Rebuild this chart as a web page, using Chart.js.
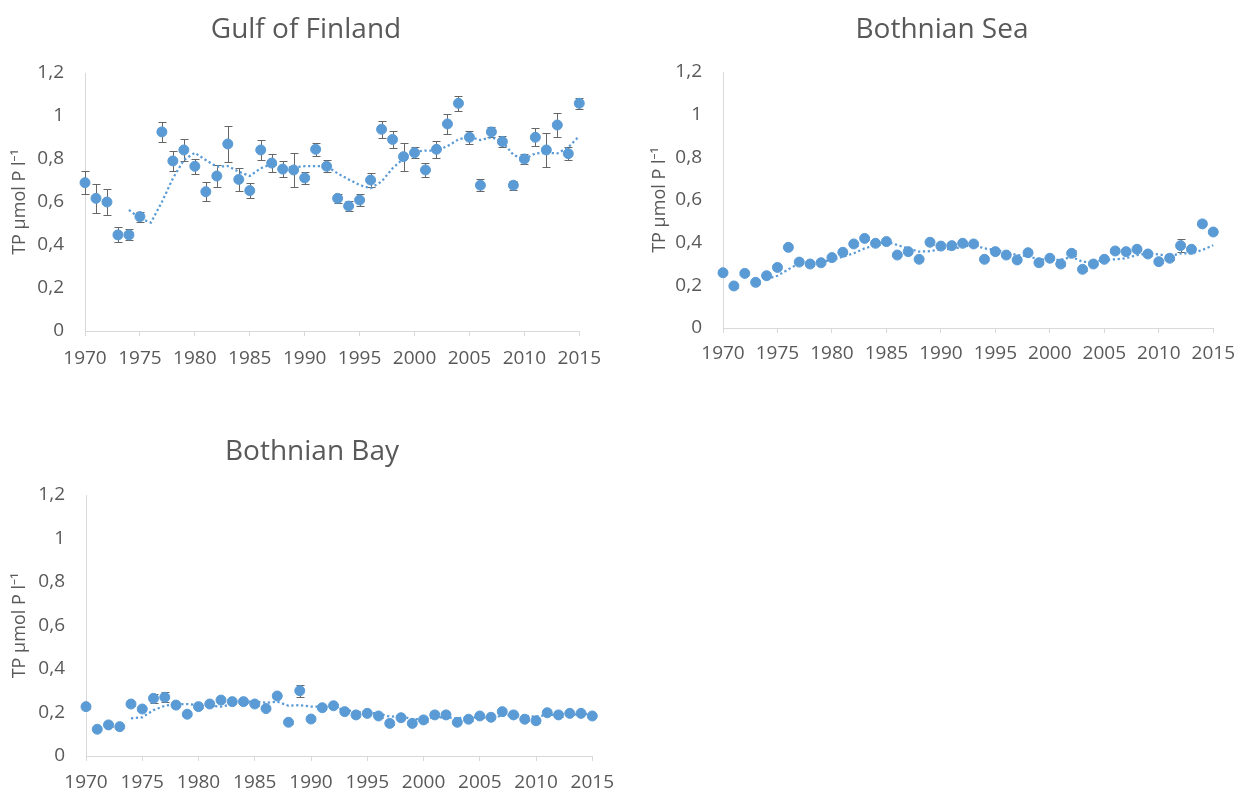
<!DOCTYPE html>
<html><head><meta charset="utf-8">
<script src="https://cdn.jsdelivr.net/npm/chart.js@4/dist/chart.umd.min.js"></script>
<style>
html,body{margin:0;padding:0;background:#fff;}
body{width:1244px;height:793px;position:relative;overflow:hidden;}
canvas{position:absolute;}
</style></head><body>
<canvas id="c1" width="612" height="365" style="left:0;top:0"></canvas>
<canvas id="c2" width="604" height="365" style="left:640px;top:0"></canvas>
<canvas id="c3" width="624" height="371" style="left:0;top:422px"></canvas>
<script>
const years = [1970,1971,1972,1973,1974,1975,1976,1977,1978,1979,1980,1981,1982,1983,1984,1985,1986,1987,1988,1989,1990,1991,1992,1993,1994,1995,1996,1997,1998,1999,2000,2001,2002,2003,2004,2005,2006,2007,2008,2009,2010,2011,2012,2013,2014,2015];
const trendYears = [1974,1975,1976,1977,1978,1979,1980,1981,1982,1983,1984,1985,1986,1987,1988,1989,1990,1991,1992,1993,1994,1995,1996,1997,1998,1999,2000,2001,2002,2003,2004,2005,2006,2007,2008,2009,2010,2011,2012,2013,2014,2015];
const xTicks = [1970,1975,1980,1985,1990,1995,2000,2005,2010,2015];
const yTicks = [0,0.2,0.4,0.6,0.8,1,1.2];

const titles = ['Gulf of Finland','Bothnian Sea','Bothnian Bay'];
const yAxisTitle = 'TP µmol P l⁻¹';

const gofValues = [0.69,0.617,0.60,0.447,0.447,0.532,null,0.926,0.791,0.842,0.766,0.648,0.721,0.870,0.705,0.653,0.842,0.781,0.753,0.749,0.712,0.845,0.766,0.617,0.581,0.609,0.702,0.938,0.891,0.811,0.829,0.749,0.845,0.963,1.059,0.901,0.678,0.926,0.881,0.678,0.80,0.901,0.842,0.958,0.825,1.059];
const gofErrors = [0.053,0.067,0.062,0.035,0.026,0.023,null,0.046,0.046,0.05,0.035,0.043,0.05,0.082,0.054,0.034,0.046,0.042,0.036,0.079,0.028,0.031,0.028,0.022,0.025,0.028,0.031,0.04,0.04,0.065,0.025,0.034,0.039,0.046,0.034,0.031,0.028,0.025,0.026,0.02,0.025,0.042,0.078,0.054,0.03,0.026];
const gofTrend = [0.563,0.524,0.504,0.60,0.71,0.795,0.829,0.795,0.764,0.767,0.741,0.721,0.757,0.777,0.764,0.76,0.767,0.767,0.767,0.733,0.705,0.679,0.664,0.695,0.757,0.803,0.834,0.839,0.839,0.860,0.891,0.904,0.888,0.901,0.881,0.819,0.799,0.826,0.829,0.826,0.854,0.907];

const bsValues = [0.259,0.197,0.256,0.214,0.245,0.284,0.378,0.309,0.30,0.306,0.33,0.355,0.394,0.42,0.397,0.405,0.342,0.358,0.322,0.402,0.384,0.386,0.397,0.394,0.322,0.358,0.342,0.319,0.353,0.306,0.327,0.30,0.35,0.275,0.30,0.322,0.361,0.358,0.369,0.347,0.311,0.327,0.386,0.369,0.488,0.45];
const bsErrors = [0.008,0.008,0.008,0.008,0.008,0.008,0.01,0.008,0.008,0.008,0.008,0.008,0.008,0.008,0.008,0.008,0.008,0.008,0.008,0.012,0.008,0.008,0.008,0.008,0.008,0.008,0.008,0.008,0.008,0.008,0.008,0.008,0.014,0.008,0.008,0.008,0.008,0.008,0.008,0.008,0.008,0.008,0.031,0.01,0.01,0.01];
const bsTrend = [0.23,0.245,0.275,0.303,0.31,0.31,0.319,0.334,0.35,0.373,0.389,0.405,0.389,0.373,0.358,0.36,0.37,0.37,0.381,0.389,0.373,0.366,0.353,0.342,0.336,0.322,0.319,0.319,0.334,0.31,0.31,0.319,0.322,0.327,0.342,0.35,0.345,0.336,0.35,0.35,0.366,0.388];

const bbValues = [0.227,0.123,0.143,0.135,0.239,0.216,0.265,0.27,0.234,0.192,0.227,0.239,0.257,0.25,0.25,0.239,0.218,0.276,0.155,0.30,0.17,0.222,0.231,0.204,0.189,0.196,0.184,0.15,0.176,0.15,0.166,0.189,0.189,0.155,0.169,0.184,0.178,0.204,0.189,0.169,0.162,0.199,0.189,0.196,0.196,0.184];
const bbErrors = [0.01,0.008,0.008,0.008,0.008,0.008,0.022,0.024,0.008,0.008,0.008,0.008,0.008,0.008,0.008,0.008,0.008,0.008,0.008,0.028,0.008,0.008,0.008,0.008,0.008,0.008,0.008,0.008,0.008,0.008,0.008,0.008,0.008,0.008,0.008,0.008,0.008,0.008,0.008,0.008,0.008,0.012,0.008,0.008,0.008,0.008];
const bbTrend = [0.173,0.178,0.211,0.231,0.239,0.239,0.234,0.231,0.227,0.237,0.25,0.25,0.245,0.25,0.231,0.234,0.227,0.227,0.227,0.211,0.204,0.199,0.196,0.181,0.184,0.169,0.169,0.178,0.178,0.173,0.178,0.178,0.178,0.184,0.189,0.184,0.181,0.189,0.189,0.189,0.192,0.196];

const FONT = "'Open Sans', 'Noto Sans', sans-serif";
const TEXT = '#595959';
const BLUE = '#5B9BD5';
const AXIS = '#d9d9d9';

const errorBarPlugin = {
  id: 'errorBars',
  beforeDatasetsDraw(chart) {
    const ctx = chart.ctx, xs = chart.scales.x, ys = chart.scales.y;
    chart.data.datasets.forEach(ds => {
      if (!ds.hasErrors) return;
      ctx.save();
      ctx.strokeStyle = '#666666';
      ctx.lineWidth = 1;
      ds.data.forEach(p => {
        if (p.e == null) return;
        const px = Math.round(xs.getPixelForValue(p.x)) + 0.5;
        const yt = Math.round(ys.getPixelForValue(p.y + p.e)) + 0.5;
        const yb = Math.round(ys.getPixelForValue(p.y - p.e)) + 0.5;
        ctx.beginPath();
        ctx.moveTo(px, yt); ctx.lineTo(px, yb);
        ctx.moveTo(px - 4, yt); ctx.lineTo(px + 4, yt);
        ctx.moveTo(px - 4, yb); ctx.lineTo(px + 4, yb);
        ctx.stroke();
      });
      ctx.restore();
    });
  }
};

const panelTitlePlugin = {
  id: 'panelTitle',
  afterDraw(chart, args, opts) {
    const ctx = chart.ctx;
    ctx.save();
    ctx.font = '28px ' + FONT;
    ctx.fillStyle = TEXT;
    ctx.textAlign = 'center';
    ctx.textBaseline = 'middle';
    ctx.fillText(opts.text, opts.cx, opts.cy);
    ctx.restore();
  }
};

function makeChart(id, title, values, errors, trend, g) {
  const pts = [];
  years.forEach((yr, i) => { if (values[i] != null) pts.push({x: yr, y: values[i], e: errors[i]}); });
  const tr = trendYears.map((yr, i) => ({x: yr, y: trend[i]}));
  return new Chart(document.getElementById(id), {
    type: 'scatter',
    data: {datasets: [
      {type: 'line', data: tr, borderColor: BLUE, borderWidth: 2.25, borderDash: [2.25, 2.6],
       pointRadius: 0, fill: false, tension: 0, borderCapStyle: 'butt', clip: false},
      {data: pts, hasErrors: true, backgroundColor: BLUE, borderColor: BLUE, pointRadius: 5, pointBorderWidth: 1, showLine: false, clip: false}
    ]},
    options: {
      responsive: false, animation: false, devicePixelRatio: 1,
      layout: {padding: {left: 0, right: g.padRight, top: g.padTop, bottom: 0}},
      plugins: {
        legend: {display: false}, tooltip: {enabled: false}, title: {display: false},
        panelTitle: {text: title, cx: g.titleX, cy: g.titleY}
      },
      scales: {
        x: {type: 'linear', min: xTicks[0], max: xTicks[xTicks.length - 1],
            afterBuildTicks: s => { s.ticks = xTicks.map(v => ({value: v})); },
            ticks: {color: TEXT, font: {family: FONT, size: 19}, padding: g.xPad, maxRotation: 0, autoSkip: false,
                    callback: v => String(v)},
            grid: {drawOnChartArea: false, drawTicks: true, tickLength: 5, color: AXIS},
            border: {display: true, color: AXIS, width: 1},
            afterFit: s => { s.height = g.xAxisHeight; }},
        y: {type: 'linear', min: yTicks[0], max: yTicks[yTicks.length - 1],
            afterBuildTicks: s => { s.ticks = yTicks.map(v => ({value: v})); },
            ticks: {color: TEXT, font: {family: FONT, size: 19}, padding: 21,
                    callback: v => String(Math.round(v * 10) / 10).replace('.', ',')},
            grid: {drawOnChartArea: false, drawTicks: false, color: AXIS},
            border: {display: true, color: AXIS, width: 1},
            title: {display: true, text: yAxisTitle, color: TEXT, font: {family: FONT, size: 18}, padding: {top: 9, bottom: 0}},
            afterFit: s => { s.width = g.yAxisWidth; }}
      }
    },
    plugins: [errorBarPlugin, panelTitlePlugin]
  });
}

makeChart('c1', titles[0], gofValues, gofErrors, gofTrend, {yAxisWidth: 85, xAxisHeight: 34, padRight: 24, padTop: 73, titleX: 306, titleY: 30, xPad: 11});
makeChart('c2', titles[1], bsValues, bsErrors, bsTrend, {yAxisWidth: 83, xAxisHeight: 37, padRight: 22, padTop: 72, titleX: 302, titleY: 30, xPad: 9});
makeChart('c3', titles[2], bbValues, bbErrors, bbTrend, {yAxisWidth: 86, xAxisHeight: 37, padRight: 27, padTop: 73, titleX: 312, titleY: 30, xPad: 10});
</script>
</body></html>
